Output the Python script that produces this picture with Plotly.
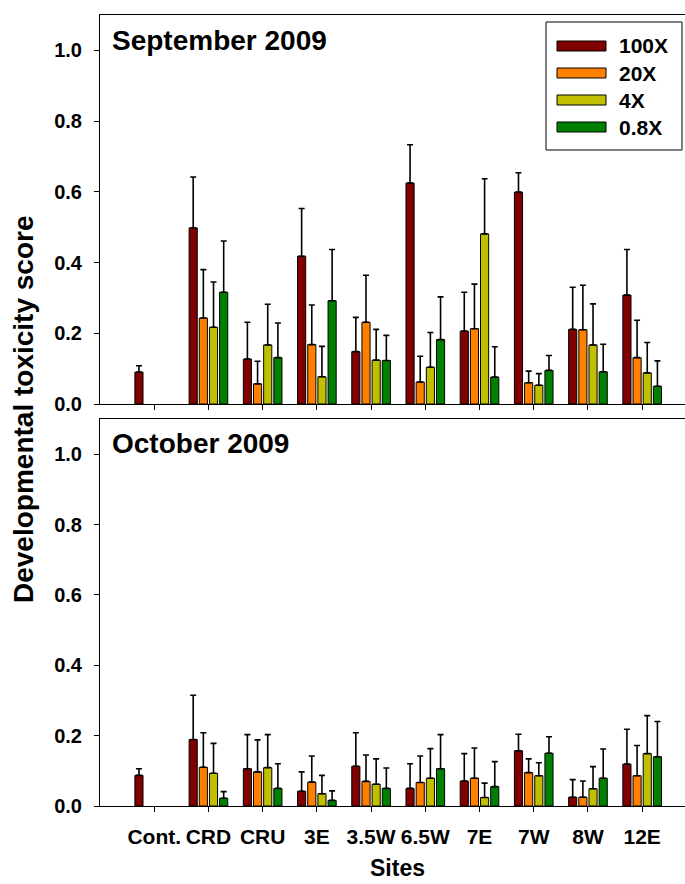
import plotly.graph_objects as go

# Sampling sites and extract concentrations
sites = ["Cont.", "CRD", "CRU", "3E", "3.5W", "6.5W", "7E", "7W", "8W", "12E"]
series = ["100X", "20X", "4X", "0.8X"]
colors = ["#800000", "#FF8000", "#C0C000", "#008000"]

# September 2009: mean developmental toxicity score and upper error
sep_100x = [0.090, 0.498, 0.127, 0.418, 0.148, 0.625, 0.206, 0.599, 0.211, 0.308]
sep_100x_err = [0.018, 0.144, 0.104, 0.135, 0.097, 0.108, 0.110, 0.055, 0.119, 0.129]
sep_20x = [None, 0.243, 0.057, 0.168, 0.231, 0.062, 0.213, 0.060, 0.210, 0.131]
sep_20x_err = [None, 0.137, 0.064, 0.112, 0.133, 0.073, 0.126, 0.033, 0.126, 0.106]
sep_4x = [None, 0.217, 0.167, 0.077, 0.124, 0.104, 0.481, 0.053, 0.167, 0.088]
sep_4x_err = [None, 0.128, 0.115, 0.086, 0.087, 0.098, 0.156, 0.033, 0.116, 0.086]
sep_08x = [None, 0.316, 0.131, 0.292, 0.123, 0.182, 0.076, 0.095, 0.091, 0.050]
sep_08x_err = [None, 0.145, 0.098, 0.145, 0.071, 0.121, 0.086, 0.042, 0.078, 0.072]

# October 2009
oct_100x = [0.087, 0.189, 0.106, 0.042, 0.113, 0.050, 0.071, 0.157, 0.025, 0.119]
oct_100x_err = [0.019, 0.126, 0.097, 0.055, 0.095, 0.070, 0.078, 0.047, 0.050, 0.099]
oct_20x = [None, 0.110, 0.097, 0.068, 0.070, 0.067, 0.079, 0.095, 0.025, 0.086]
oct_20x_err = [None, 0.098, 0.091, 0.074, 0.075, 0.075, 0.086, 0.039, 0.046, 0.086]
oct_4x = [None, 0.093, 0.109, 0.035, 0.062, 0.079, 0.024, 0.086, 0.049, 0.149]
oct_4x_err = [None, 0.085, 0.094, 0.052, 0.072, 0.084, 0.041, 0.037, 0.063, 0.108]
oct_08x = [None, 0.022, 0.050, 0.016, 0.050, 0.106, 0.055, 0.150, 0.079, 0.140]
oct_08x_err = [None, 0.019, 0.070, 0.027, 0.058, 0.097, 0.071, 0.047, 0.083, 0.100]

panels = [
    ("September 2009", "x", "y",
     [sep_100x, sep_20x, sep_4x, sep_08x],
     [sep_100x_err, sep_20x_err, sep_4x_err, sep_08x_err]),
    ("October 2009", "x2", "y2",
     [oct_100x, oct_20x, oct_4x, oct_08x],
     [oct_100x_err, oct_20x_err, oct_4x_err, oct_08x_err]),
]

FONT = "Liberation Sans, Arial, sans-serif"

# pixel geometry helpers (figure 685 x 884)
W, H = 685, 884
ML, MR, MT, MB = 100, 0, 15, 78
PW, PH = W - ML - MR, H - MT - MB


def px(xp):
    return (xp - ML) / PW


def py(yp):
    return (H - MB - yp) / PH


fig = go.Figure()

for title, xa, ya, means, errs in panels:
    for name, color, vals, err in zip(series, colors, means, errs):
        fig.add_trace(go.Bar(
            x=sites, y=vals, name=name, xaxis=xa, yaxis=ya,
            marker=dict(color=color, line=dict(color="black", width=1)),
            error_y=dict(type="data", symmetric=False, array=err,
                         arrayminus=[0] * len(sites),
                         color="black", thickness=1.6, width=3),
            showlegend=False,
        ))

top_dom = [py(404), 1.0]
bot_dom = [0.0, py(419)]

axis_common = dict(
    type="category", range=[-1, 9.79], showline=True, linecolor="black",
    linewidth=1, mirror=True, ticks="outside", ticklen=5, tickcolor="black",
    showgrid=False, zeroline=False, fixedrange=True,
)
yaxis_common = dict(
    range=[0, 1.1], showline=True, linecolor="black", linewidth=1,
    ticks="outside", ticklen=5, tickcolor="black", showgrid=False,
    zeroline=False, tickvals=[0, 0.2, 0.4, 0.6, 0.8, 1.0],
    tickformat=".1f", ticklabelstandoff=8,
    tickfont=dict(family=FONT, size=20, color="black", weight="bold"),
)

fig.update_layout(
    width=W, height=H,
    margin=dict(l=ML, r=MR, t=MT, b=MB),
    paper_bgcolor="white", plot_bgcolor="white",
    barmode="group", bargap=0.25, bargroupgap=0.2,
    xaxis=dict(axis_common, anchor="y", showticklabels=False),
    yaxis=dict(yaxis_common, domain=top_dom, anchor="x"),
    xaxis2=dict(axis_common, anchor="y2",
                tickfont=dict(family=FONT, size=21, color="black", weight="bold"),
                ticklabelstandoff=7),
    yaxis2=dict(yaxis_common, domain=bot_dom, anchor="x2"),
    font=dict(family=FONT, color="black"),
)

annotations = []
# panel titles
for (title, *_), ycen in zip(panels, [40, 443]):
    annotations.append(dict(
        text=f"<b>{title}</b>", xref="paper", yref="paper",
        x=px(110), y=py(ycen), xanchor="left", yanchor="middle",
        showarrow=False, font=dict(family=FONT, size=28, color="black"),
    ))

# axis titles
annotations.append(dict(
    text="<b>Developmental toxicity score</b>", xref="paper", yref="paper",
    x=px(23), y=py(410), xanchor="center", yanchor="middle", textangle=-90,
    showarrow=False, font=dict(family=FONT, size=28, color="black"),
))
annotations.append(dict(
    text="<b>Sites</b>", xref="paper", yref="paper",
    x=px(397), y=py(868), xanchor="center", yanchor="middle",
    showarrow=False, font=dict(family=FONT, size=23, color="black"),
))

# legend box with wide swatches
shapes = [dict(type="rect", xref="paper", yref="paper",
               x0=px(546), x1=px(682), y0=py(150), y1=py(22),
               line=dict(color="black", width=1), fillcolor="white", layer="above")]
rows = [46, 73, 100, 127]
for name, color, r in zip(series, colors, rows):
    shapes.append(dict(type="rect", xref="paper", yref="paper",
                       x0=px(557), x1=px(606), y0=py(r + 5), y1=py(r - 5),
                       line=dict(color="black", width=1), fillcolor=color,
                       layer="above"))
    annotations.append(dict(
        text=f"<b>{name}</b>", xref="paper", yref="paper",
        x=px(617), y=py(r), xanchor="left", yanchor="middle",
        showarrow=False, font=dict(family=FONT, size=21, color="black"),
    ))

fig.update_layout(annotations=annotations, shapes=shapes)

fig.write_html("out.html")
